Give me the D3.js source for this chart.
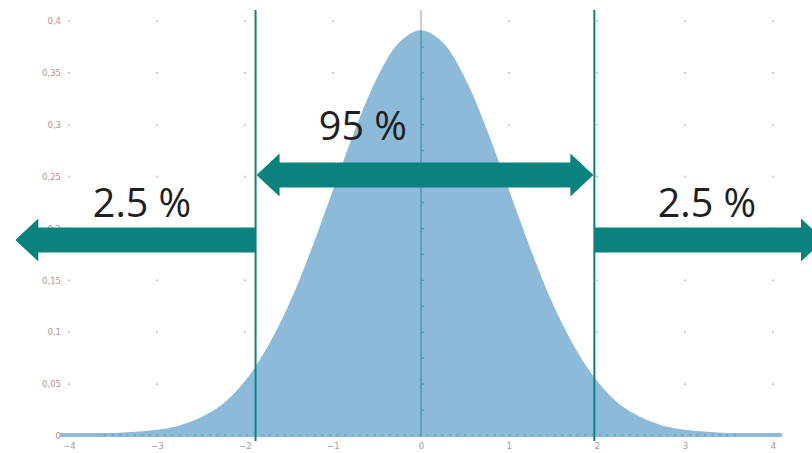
<!DOCTYPE html>
<html>
<head>
<meta charset="utf-8">
<script src="https://cdn.jsdelivr.net/npm/d3@7"></script>
<style>
  html, body { margin: 0; padding: 0; background: #fff; }
  svg { display: block; }
</style>
</head>
<body>
<svg id="chart" width="812" height="453"></svg>
<script>
// ---- data ----
const xTicks = [-4, -3, -2, -1, 0, 1, 2, 3, 4];
const yTicks = [0, 0.05, 0.1, 0.15, 0.2, 0.25, 0.3, 0.35, 0.4];
const yTickLabels = ["0", "0,05", "0,1", "0,15", "0,2", "0,25", "0,3", "0,35", "0,4"];
const curveX = [-4.1, -4, -3.75, -3.5, -3.25, -3, -2.75, -2.5, -2.25, -2, -1.75, -1.5, -1.25, -1, -0.75, -0.5, -0.25, 0,
                0.25, 0.5, 0.75, 1, 1.25, 1.5, 1.75, 2, 2.25, 2.5, 2.75, 3, 3.25, 3.5, 3.75, 4, 4.1];
const curveY = [0.003, 0.003, 0.003, 0.003, 0.004, 0.006, 0.010, 0.018, 0.031, 0.053, 0.085, 0.127, 0.179, 0.237, 0.295, 0.345, 0.379, 0.391,
                0.379, 0.345, 0.295, 0.237, 0.179, 0.127, 0.085, 0.053, 0.031, 0.018, 0.010, 0.006, 0.004, 0.003, 0.003, 0.003, 0.003];
const bounds = [-1.88, 1.97];
const labels = ["2.5 %", "95 %", "2.5 %"];
const labelX = [-3.17, -0.66, 3.25];
const labelY = [0.211, 0.285, 0.211];
const sideArrowY = 0.189;
const midArrowY = 0.2515;
const arrowTips = [-4.61, 4.58];

// ---- scales ----
const svg = d3.select("#chart");
const x = d3.scaleLinear().domain([-4, 4]).range([69, 773]);
const y = d3.scaleLinear().domain([0, 0.4]).range([436, 21]);

const teal = "#0a837f";
const fillBlue = "#8dbad8";
const labelColor = "#b99292";

// grid dots
const grid = svg.append("g");
xTicks.forEach(xv => {
  yTicks.slice(1).forEach(yv => {
    grid.append("circle").attr("cx", x(xv)).attr("cy", y(yv)).attr("r", 1.1).attr("fill", "#c3cad4");
  });
});

// area
const area = d3.area()
  .x((d, i) => x(curveX[i]))
  .y0(y(0) + 1)
  .y1((d, i) => y(curveY[i]))
  .curve(d3.curveCatmullRom);
svg.append("path").datum(curveY).attr("d", area).attr("fill", fillBlue);

// baseline dotted axis
svg.append("line")
  .attr("x1", x(-3.6)).attr("x2", x(3.6))
  .attr("y1", y(0) - 1).attr("y2", y(0) - 1)
  .attr("stroke", "#5f97b8").attr("stroke-width", 1.5)
  .attr("stroke-dasharray", "1.5,6");

// center axis
svg.append("line")
  .attr("x1", x(0)).attr("x2", x(0))
  .attr("y1", 10).attr("y2", y(0.391))
  .attr("stroke", "#d4b3b3").attr("stroke-width", 1.5);
svg.append("line")
  .attr("x1", x(0)).attr("x2", x(0))
  .attr("y1", y(0.391)).attr("y2", y(0))
  .attr("stroke", "#4f9aa6").attr("stroke-width", 1.5);
d3.range(0.025, 0.4, 0.025).forEach(v => {
  svg.append("line")
    .attr("x1", x(0)).attr("x2", x(0) + 3)
    .attr("y1", y(v)).attr("y2", y(v))
    .attr("stroke", "#4f9aa6").attr("stroke-width", 1.2);
});

// axes labels via d3 axes
const yAxis = d3.axisLeft(y).tickValues(yTicks).tickFormat((d, i) => yTickLabels[i]).tickSize(0).tickPadding(0);
const gy = svg.append("g").attr("transform", `translate(${x(-4) - 8},0)`).call(yAxis);
gy.select(".domain").remove();
gy.selectAll("text").attr("fill", labelColor).attr("font-family", "DejaVu Sans, sans-serif").attr("font-size", 8.5);

const xAxis = d3.axisBottom(x).tickValues(xTicks).tickFormat(d => d < 0 ? "\u2212" + Math.abs(d) : String(d)).tickSize(0).tickPadding(0);
const gx = svg.append("g").attr("transform", `translate(0,${y(0) + 7})`).call(xAxis);
gx.select(".domain").remove();
gx.selectAll("text").attr("fill", labelColor).attr("font-family", "DejaVu Sans, sans-serif").attr("font-size", 8.5);

// vertical boundary lines
bounds.forEach(b => {
  svg.append("line")
    .attr("x1", x(b)).attr("x2", x(b))
    .attr("y1", 10).attr("y2", y(0) + 5)
    .attr("stroke", teal).attr("stroke-width", 2);
});

// arrows
const shaftH = 12.5, headH = 21.5, headL = 23;
function arrowPath(xFrom, xTip, cy) {
  const dir = xTip > xFrom ? 1 : -1;
  const hb = xTip - dir * headL;
  return `M${xFrom},${cy - shaftH}L${hb},${cy - shaftH}L${hb},${cy - headH}L${xTip},${cy}L${hb},${cy + headH}L${hb},${cy + shaftH}L${xFrom},${cy + shaftH}Z`;
}
function doubleArrow(xL, xR, cy) {
  const l = xL + headL, r = xR - headL;
  return `M${xL},${cy}L${l},${cy - headH}L${l},${cy - shaftH}L${r},${cy - shaftH}L${r},${cy - headH}L${xR},${cy}L${r},${cy + headH}L${r},${cy + shaftH}L${l},${cy + shaftH}L${l},${cy + headH}Z`;
}
svg.append("path").attr("d", arrowPath(x(bounds[0]), x(arrowTips[0]), y(sideArrowY))).attr("fill", teal);
svg.append("path").attr("d", arrowPath(x(bounds[1]), x(arrowTips[1]), y(sideArrowY))).attr("fill", teal);
svg.append("path").attr("d", doubleArrow(x(bounds[0]) + 1, x(bounds[1]) - 1, y(midArrowY))).attr("fill", teal);

// labels
labels.forEach((t, i) => {
  svg.append("text")
    .attr("x", x(labelX[i])).attr("y", y(labelY[i]))
    .attr("text-anchor", "middle")
    .attr("font-family", "'Open Sans', sans-serif")
    .attr("font-size", 39.5)
    .attr("fill", "#1f1f1f")
    .text(t);
});
</script>
</body>
</html>
